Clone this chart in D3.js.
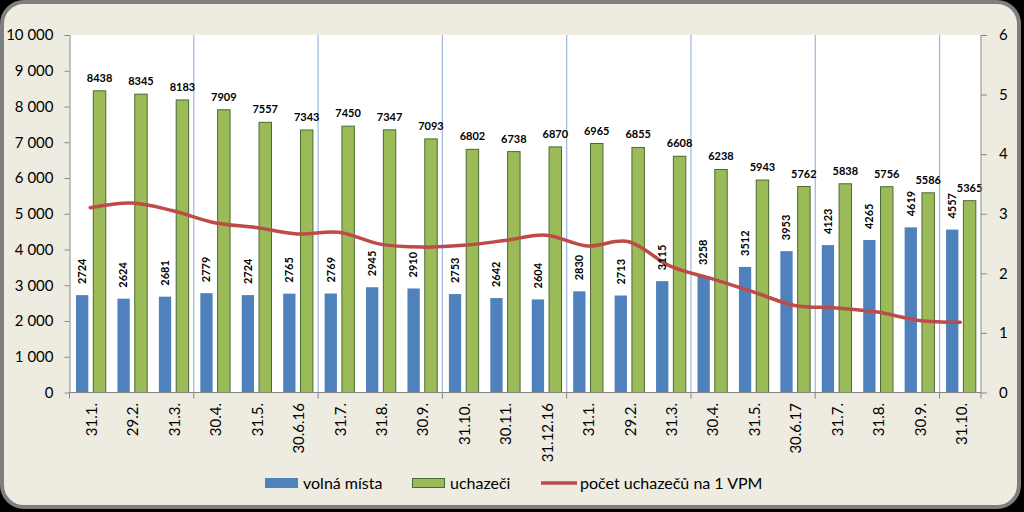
<!DOCTYPE html>
<html><head><meta charset="utf-8">
<script src="https://cdn.jsdelivr.net/npm/d3@7"></script>
<style>body{margin:0;background:#000;}svg{display:block;}</style>
</head><body><svg id="c" width="1024" height="512"></svg>
<script>
const categories = ["31.1.","29.2.","31.3.","30.4.","31.5.","30.6.16","31.7.","31.8.","30.9.","31.10.","30.11.","31.12.16","31.1.","29.2.","31.3.","30.4.","31.5.","30.6.17","31.7.","31.8.","30.9.","31.10."];
const volnaMista = [2724,2624,2681,2779,2724,2765,2769,2945,2910,2753,2642,2604,2830,2713,3115,3258,3512,3953,4123,4265,4619,4557];
const uchazeci = [8438,8345,8183,7909,7557,7343,7450,7347,7093,6802,6738,6870,6965,6855,6608,6238,5943,5762,5838,5756,5586,5365];
const pocetNa1VPM = [3.10,3.18,3.05,2.85,2.77,2.66,2.69,2.49,2.44,2.47,2.55,2.64,2.46,2.53,2.12,1.91,1.69,1.46,1.42,1.35,1.21,1.18];
const leftTicks = [0,1000,2000,3000,4000,5000,6000,7000,8000,9000,10000];
const rightTicks = [0,1,2,3,4,5,6];
const seriesNames = ["volná místa","uchazeči","počet uchazečů na 1 VPM"];

const FONT = "Lato, 'Open Sans', sans-serif";
const svg = d3.select("#c");
const L = 69.5, R = 981, T = 35, B = 392.5;
const idx = d3.range(categories.length);
const x = d3.scaleBand().domain(idx).range([L, R]).padding(0);
const bw = x.bandwidth();
const yL = d3.scaleLinear().domain([0, 10000]).range([B, T]);
const yR = d3.scaleLinear().domain([0, 6]).range([B, T]);

// frame
svg.append("rect").attr("x",2).attr("y",2).attr("width",1017).attr("height",505)
  .attr("rx",22).attr("fill","#EEECE1").attr("stroke","#7F7F7F").attr("stroke-width",4);
// plot area
svg.append("rect").attr("x",L).attr("y",T).attr("width",R-L).attr("height",B-T).attr("fill","#fff");

// vertical separators every 3 categories
const sep = idx.filter(i => i > 0 && i % 3 === 0);
svg.append("g").selectAll("line").data(sep).join("line")
  .attr("x1", i => x(i)).attr("x2", i => x(i)).attr("y1", T).attr("y2", B)
  .attr("stroke","#9DB7DC").attr("stroke-width",1.2);

// bars
svg.append("g").selectAll("rect").data(idx).join("rect")
  .attr("x", i => x(i) + bw*0.157).attr("width", bw*0.297)
  .attr("y", i => yL(volnaMista[i])).attr("height", i => B - yL(volnaMista[i]))
  .attr("fill","#4F81BD");
svg.append("g").selectAll("rect").data(idx).join("rect")
  .attr("x", i => x(i) + bw*0.575).attr("width", bw*0.3)
  .attr("y", i => yL(uchazeci[i])).attr("height", i => B - yL(uchazeci[i]))
  .attr("fill","#9BBB59").attr("stroke","#4A6A32").attr("stroke-width",1);

// line
const line = d3.line().x(i => x(i) + bw/2).y(i => yR(pocetNa1VPM[i])).curve(d3.curveCardinal.tension(0));
svg.append("path").attr("d", line(idx)).attr("fill","none")
  .attr("stroke","#BE4B48").attr("stroke-width",3.5).attr("stroke-linecap","round");

// labels
svg.append("g").selectAll("text").data(idx).join("text")
  .attr("x", i => x(i) + bw*0.575 + bw*0.15).attr("y", i => yL(uchazeci[i]) - 9)
  .attr("text-anchor","middle").attr("font-family",FONT).attr("font-weight","bold")
  .attr("font-size",11).attr("fill","#000").text(i => uchazeci[i]);
svg.append("g").selectAll("text").data(idx).join("text")
  .attr("transform", i => `translate(${x(i) + bw*0.157 + bw*0.1485},${yL(volnaMista[i]) - 11}) rotate(-90)`)
  .attr("dy","0.35em").attr("text-anchor","start").attr("font-family",FONT).attr("font-weight","bold")
  .attr("font-size",11).attr("fill","#000").text(i => volnaMista[i]);

// axes
const axisColor = "#868686";
const gL = svg.append("g").attr("transform",`translate(${L},0)`)
  .call(d3.axisLeft(yL).tickValues(leftTicks).tickSize(5).tickPadding(11)
    .tickFormat(d => d3.format(",")(d).replace(/,/g," ")));
const gR = svg.append("g").attr("transform",`translate(${R},0)`)
  .call(d3.axisRight(yR).tickValues(rightTicks).tickSize(6).tickPadding(12).tickFormat(d3.format("d")));
const xTicks = idx.filter(i => i % 3 === 0).map(i => x(i)).concat([R]);
const gX = svg.append("g");
gX.append("line").attr("x1",L).attr("x2",R).attr("y1",B).attr("y2",B).attr("stroke",axisColor);
gX.selectAll("line.t").data(xTicks).join("line").attr("class","t")
  .attr("x1",d=>d).attr("x2",d=>d).attr("y1",B).attr("y2",B+6).attr("stroke",axisColor);
gX.selectAll("text").data(idx).join("text")
  .attr("transform", i => `translate(${x(i)+bw/2},403) rotate(-90)`)
  .attr("dy","0.45em").attr("text-anchor","end").attr("font-family",FONT)
  .attr("font-size",15).attr("fill","#000").text(i => categories[i]);
[gL, gR].forEach(g => {
  g.selectAll("path.domain").attr("stroke",axisColor).attr("stroke-width",1);
  g.selectAll(".tick line").attr("stroke",axisColor);
  g.selectAll(".tick text").attr("font-family",FONT).attr("font-size",15).attr("fill","#000");
});
gL.select("path.domain").attr("d",`M0.5,${T}V${B}`);
gR.select("path.domain").attr("d",`M0,${T}V${B}`);

// legend
const lg = svg.append("g").attr("font-family",FONT).attr("font-size",16).attr("fill","#000");
lg.append("rect").attr("x",265).attr("y",478).attr("width",33).attr("height",10).attr("fill","#4F81BD");
lg.append("text").attr("x",303).attr("y",483).attr("dy","0.35em").text(seriesNames[0]);
lg.append("rect").attr("x",412.5).attr("y",478.5).attr("width",32).attr("height",9).attr("fill","#9BBB59").attr("stroke","#4A6A32");
lg.append("text").attr("x",450).attr("y",483).attr("dy","0.35em").text(seriesNames[1]);
lg.append("line").attr("x1",541).attr("x2",577).attr("y1",483).attr("y2",483).attr("stroke","#BE4B48").attr("stroke-width",3.5);
lg.append("text").attr("x",580).attr("y",483).attr("dy","0.35em").text(seriesNames[2]);
</script></body></html>
